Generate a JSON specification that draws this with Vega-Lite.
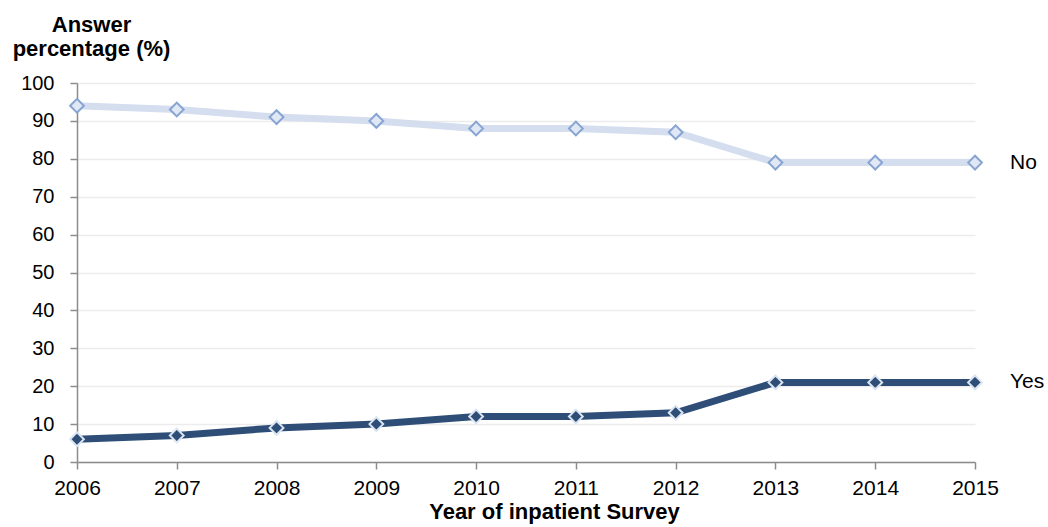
{
  "$schema": "https://vega.github.io/schema/vega-lite/v6.json",
  "width": 898,
  "height": 379,
  "autosize": {"type": "none"},
  "padding": {"left": 77, "top": 83, "right": 73, "bottom": 65},
  "background": "white",
  "config": {
    "view": {"stroke": null},
    "font": "Liberation Sans",
    "axis": {"labelFont": "Liberation Sans", "titleFont": "Liberation Sans"}
  },
  "data": {
    "values": [
      {"year": 2006, "answer": "No", "pct": 94},
      {"year": 2007, "answer": "No", "pct": 93},
      {"year": 2008, "answer": "No", "pct": 91},
      {"year": 2009, "answer": "No", "pct": 90},
      {"year": 2010, "answer": "No", "pct": 88},
      {"year": 2011, "answer": "No", "pct": 88},
      {"year": 2012, "answer": "No", "pct": 87},
      {"year": 2013, "answer": "No", "pct": 79},
      {"year": 2014, "answer": "No", "pct": 79},
      {"year": 2015, "answer": "No", "pct": 79},
      {"year": 2006, "answer": "Yes", "pct": 6},
      {"year": 2007, "answer": "Yes", "pct": 7},
      {"year": 2008, "answer": "Yes", "pct": 9},
      {"year": 2009, "answer": "Yes", "pct": 10},
      {"year": 2010, "answer": "Yes", "pct": 12},
      {"year": 2011, "answer": "Yes", "pct": 12},
      {"year": 2012, "answer": "Yes", "pct": 13},
      {"year": 2013, "answer": "Yes", "pct": 21},
      {"year": 2014, "answer": "Yes", "pct": 21},
      {"year": 2015, "answer": "Yes", "pct": 21}
    ]
  },
  "encoding": {
    "x": {
      "field": "year", "type": "quantitative",
      "scale": {"domain": [2006, 2015], "nice": false, "zero": false},
      "axis": {
        "title": "Year of inpatient Survey",
        "titleFontSize": 22, "titleFontWeight": "bold", "titleColor": "black",
        "titleX": 477, "titleY": 56, "titleAlign": "center", "titleBaseline": "alphabetic",
        "format": "d", "values": [2006,2007,2008,2009,2010,2011,2012,2013,2014,2015],
        "labelFontSize": 21, "labelColor": "black", "labelPadding": 8, "labelFlush": false, "labelOverlap": false,
        "domainColor": "#8c8c8c", "domainWidth": 1.5, "tickColor": "#8c8c8c", "tickSize": 7, "tickWidth": 1.5,
        "grid": false
      }
    },
    "y": {
      "field": "pct", "type": "quantitative",
      "scale": {"domain": [0, 100], "nice": false},
      "axis": {
        "title": ["Answer", "percentage (%)"],
        "titleAngle": 0, "titleAlign": "center", "titleBaseline": "alphabetic",
        "titleX": 14, "titleY": -52, "titleFontSize": 22, "titleFontWeight": "bold", "titleColor": "black", "titleLineHeight": 24,
        "values": [0,10,20,30,40,50,60,70,80,90,100],
        "labelFontSize": 20, "labelColor": "black", "labelPadding": 16, "labelFlush": false, "labelOverlap": false,
        "domainColor": "#8c8c8c", "domainWidth": 1.5, "tickColor": "#8c8c8c", "tickSize": 7, "tickWidth": 1.5,
        "grid": true, "gridColor": "#ececec", "gridWidth": 1.5
      }
    }
  },
  "layer": [
    {
      "mark": {"type": "line", "strokeWidth": 7, "strokeCap": "butt"},
      "encoding": {
        "color": {"field": "answer", "type": "nominal", "scale": {"domain": ["No", "Yes"], "range": ["#d4deee", "#2e4e78"]}, "legend": null}
      }
    },
    {
      "mark": {"type": "point", "shape": "diamond", "filled": true, "size": 190, "strokeWidth": 2, "opacity": 1},
      "encoding": {
        "fill": {"field": "answer", "type": "nominal", "scale": {"domain": ["No", "Yes"], "range": ["#dfe8f4", "#2e4e78"]}, "legend": null},
        "stroke": {"field": "answer", "type": "nominal", "scale": {"domain": ["No", "Yes"], "range": ["#87a4d2", "#dbe5f2"]}, "legend": null}
      }
    },
    {
      "transform": [{"filter": "datum.year == 2015"}],
      "mark": {"type": "text", "align": "left", "baseline": "middle", "dx": 35, "fontSize": 21, "color": "black", "font": "Liberation Sans"},
      "encoding": {"text": {"field": "answer"}}
    }
  ]
}
